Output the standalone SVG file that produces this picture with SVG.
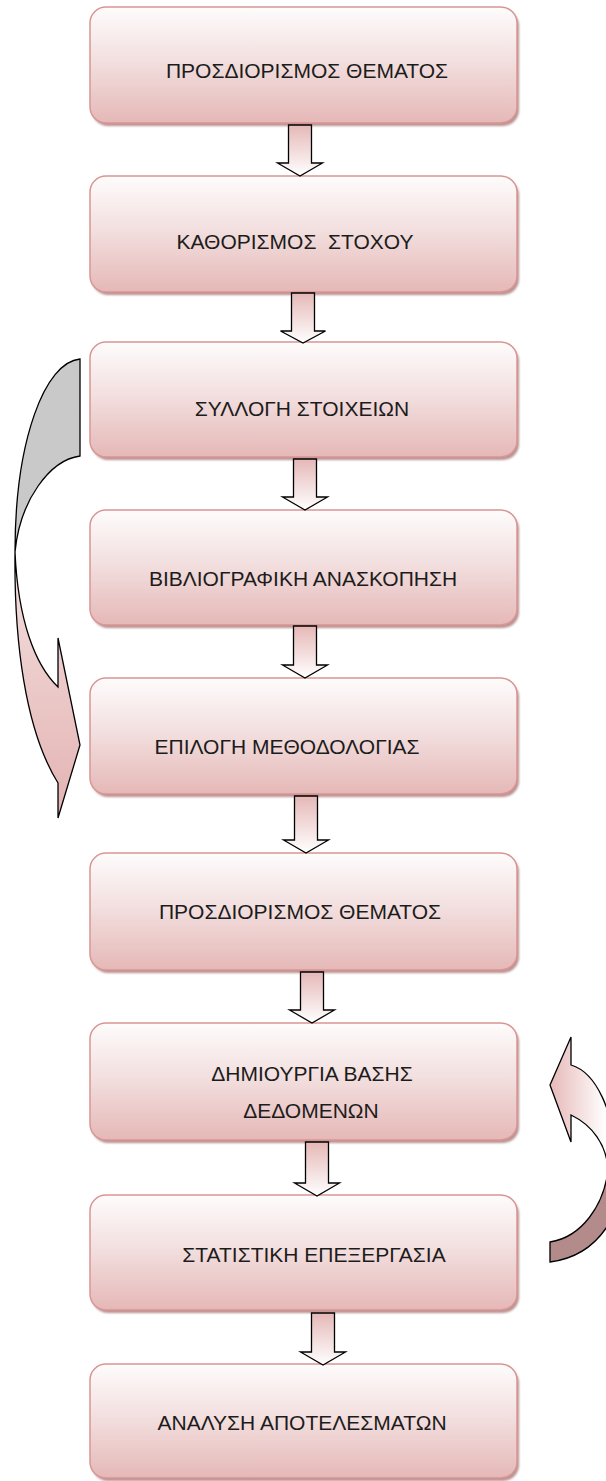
<svg xmlns="http://www.w3.org/2000/svg" width="606" height="1481" viewBox="0 0 606 1481">
<defs>
<linearGradient id="boxg" x1="0" y1="0" x2="0" y2="1">
<stop offset="0" stop-color="#fefcfc"/>
<stop offset="0.45" stop-color="#f3e0e0"/>
<stop offset="1" stop-color="#e5b8b7"/>
</linearGradient>
<linearGradient id="arrg" x1="0" y1="0" x2="0" y2="1">
<stop offset="0" stop-color="#e5b8b7"/>
<stop offset="1" stop-color="#ffffff"/>
</linearGradient>
<linearGradient id="leftg" gradientUnits="userSpaceOnUse" x1="0" y1="550" x2="0" y2="818">
<stop offset="0" stop-color="#f4e0e0"/>
<stop offset="1" stop-color="#e3b3b2"/>
</linearGradient>
<linearGradient id="rightg" gradientUnits="userSpaceOnUse" x1="550" y1="0" x2="606" y2="0">
<stop offset="0" stop-color="#e6b9b8"/>
<stop offset="1" stop-color="#ffffff"/>
</linearGradient>
<filter id="sh" x="-5%" y="-5%" width="110%" height="120%">
<feGaussianBlur stdDeviation="1.2"/>
</filter>
</defs>
<style>
.box{fill:url(#boxg);stroke:#d99594;stroke-width:1.5}
.shadow{fill:#b99292;filter:url(#sh)}
.lbl{font-family:"Liberation Sans",Arial,sans-serif;font-size:21px;fill:#1c1c1c;text-anchor:middle}
.arr{fill:url(#arrg);stroke:#000;stroke-width:1.3;stroke-linejoin:miter}
.curve{stroke:#000;stroke-width:1.3;stroke-linejoin:miter}
</style>

<g id="curved-arrows">
<path class="curve" fill="#c9c9c9" d="M 80,359 C 45,362 15,440 15,552 C 20,500 50,460 80,456 Z"/>
<path class="curve" fill="url(#leftg)" d="M 58,687 C 35,665 18,620 15,552 C 14,640 25,730 58,783 L 58,818 L 80,745 L 58,638 Z"/>
<path class="curve" fill="url(#rightg)" d="M 571,1065 C 595,1072 616,1110 616,1170 L 608,1170 C 607,1145 592,1125 571,1115 L 571,1142 L 550,1085 L 571,1037 Z"/>
<path class="curve" fill="#b38b8b" d="M 608,1170 C 604,1205 582,1237 550,1242 L 550,1262 C 582,1258 606,1240 620,1200 L 620,1170 Z"/>
</g>

<g id="node1"><rect class="shadow" x="92" y="10" width="427" height="116" rx="16"/><rect class="box" x="90" y="7" width="427" height="116" rx="16"/><text class="lbl" x="307" y="78">ΠΡΟΣΔΙΟΡΙΣΜΟΣ ΘΕΜΑΤΟΣ</text></g>
<g id="node2"><rect class="shadow" x="92" y="179" width="427" height="116" rx="16"/><rect class="box" x="90" y="176" width="427" height="116" rx="16"/><text class="lbl" x="295" y="249" xml:space="preserve">ΚΑΘΟΡΙΣΜΟΣ  ΣΤΟΧΟΥ</text></g>
<g id="node3"><rect class="shadow" x="92" y="345" width="427" height="115" rx="16"/><rect class="box" x="90" y="342" width="427" height="115" rx="16"/><text class="lbl" x="302" y="416">ΣΥΛΛΟΓΗ ΣΤΟΙΧΕΙΩΝ</text></g>
<g id="node4"><rect class="shadow" x="92" y="513" width="427" height="115" rx="16"/><rect class="box" x="90" y="510" width="427" height="115" rx="16"/><text class="lbl" x="303" y="586">ΒΙΒΛΙΟΓΡΑΦΙΚΗ ΑΝΑΣΚΟΠΗΣΗ</text></g>
<g id="node5"><rect class="shadow" x="92" y="681" width="427" height="116" rx="16"/><rect class="box" x="90" y="678" width="427" height="116" rx="16"/><text class="lbl" x="287" y="754">ΕΠΙΛΟΓΗ ΜΕΘΟΔΟΛΟΓΙΑΣ</text></g>
<g id="node6"><rect class="shadow" x="92" y="856" width="427" height="117" rx="16"/><rect class="box" x="90" y="853" width="427" height="117" rx="16"/><text class="lbl" x="300" y="919">ΠΡΟΣΔΙΟΡΙΣΜΟΣ ΘΕΜΑΤΟΣ</text></g>
<g id="node7"><rect class="shadow" x="92" y="1026" width="427" height="117" rx="16"/><rect class="box" x="90" y="1023" width="427" height="117" rx="16"/><text class="lbl" x="312" y="1081">ΔΗΜΙΟΥΡΓΙΑ ΒΑΣΗΣ</text><text class="lbl" x="311" y="1118">ΔΕΔΟΜΕΝΩΝ</text></g>
<g id="node8"><rect class="shadow" x="92" y="1198" width="427" height="115" rx="16"/><rect class="box" x="90" y="1195" width="427" height="115" rx="16"/><text class="lbl" x="314" y="1262">ΣΤΑΤΙΣΤΙΚΗ ΕΠΕΞΕΡΓΑΣΙΑ</text></g>
<g id="node9"><rect class="shadow" x="92" y="1367" width="427" height="114" rx="16"/><rect class="box" x="90" y="1364" width="427" height="114" rx="16"/><text class="lbl" x="302" y="1430">ΑΝΑΛΥΣΗ ΑΠΟΤΕΛΕΣΜΑΤΩΝ</text></g>

<g id="connectors">
<path class="arr" d="M 288.5,125 H 311.5 V 163 H 322.5 L 300,176 L 277.5,163 H 288.5 Z"/>
<path class="arr" d="M 291.5,293 H 314.5 V 331 H 325.5 L 303,343 L 280.5,331 H 291.5 Z"/>
<path class="arr" d="M 293.5,459 H 316.5 V 497 H 327.5 L 305,510 L 282.5,497 H 293.5 Z"/>
<path class="arr" d="M 293.5,626 H 316.5 V 665 H 327.5 L 305,678 L 282.5,665 H 293.5 Z"/>
<path class="arr" d="M 294.5,796 H 317.5 V 840 H 328.5 L 306,853 L 283.5,840 H 294.5 Z"/>
<path class="arr" d="M 300.5,972 H 323.5 V 1010 H 334.5 L 312,1023 L 289.5,1010 H 300.5 Z"/>
<path class="arr" d="M 305.5,1142 H 328.5 V 1183 H 339.5 L 317,1196 L 294.5,1183 H 305.5 Z"/>
<path class="arr" d="M 311.5,1313 H 334.5 V 1352 H 345.5 L 323,1365 L 300.5,1352 H 311.5 Z"/>
</g>
</svg>
